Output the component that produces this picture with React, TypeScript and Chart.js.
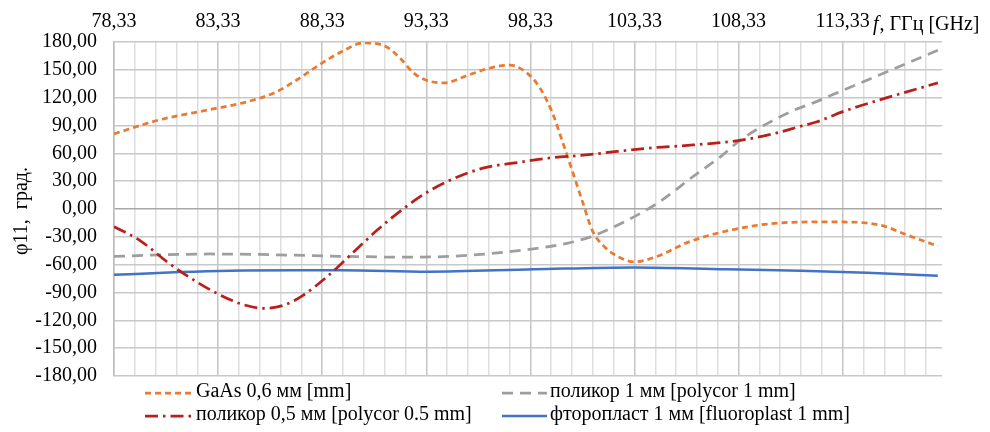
import React, { useEffect, useRef } from "react";
import { Chart, registerables } from "chart.js";
Chart.register(...registerables);

// Frequency axis (GHz)
const xMin = 78.33;
const xMax = 118.1;
const xMajorTicks = [78.33, 83.33, 88.33, 93.33, 98.33, 103.33, 108.33, 113.33];
const yTicks = [-180, -150, -120, -90, -60, -30, 0, 30, 60, 90, 120, 150, 180];

// GaAs 0,6 mm
const gaasF = [78.33, 80.5, 82.9, 84.8, 86.1, 87.1, 88.3, 89.3, 90.3, 91.4, 92.1, 92.7, 93.3, 94.2, 95.3, 96.4, 97.35, 98.3, 98.8, 99.4, 99.85, 100.33, 100.86, 101.3, 101.9, 102.6, 103.3, 104.3, 106.0, 107.9, 109.8, 111.8, 113.3, 114.45, 115.4, 116.3, 117.9];
const gaasV = [81, 96, 107, 116, 126, 139, 157, 170, 179, 175, 162, 147, 139, 136, 144, 152, 155, 144, 130, 103, 74, 42, 6, -23, -41, -52, -57, -52, -35, -23, -16, -14, -14, -15, -19, -27, -40];

// polycor 1 mm
const poly1F = [78.33, 82.94, 85.34, 89.33, 92.55, 95.29, 98.46, 100.09, 101.34, 103.26, 104.55, 106.14, 107.44, 108.4, 109.7, 110.94, 112.1, 113.34, 115.26, 117.9];
const poly1V = [-51, -48.5, -49, -51, -52, -50, -43, -37, -29, -9, 8, 35, 56, 74, 92, 106, 116, 128, 146, 171];

// polycor 0.5 mm
const poly05F = [78.33, 79.58, 80.88, 81.98, 83.28, 84.53, 85.49, 86.45, 87.41, 88.56, 89.67, 90.96, 92.21, 93.36, 94.47, 96.05, 97.69, 99.27, 100.86, 102.49, 104.22, 106.14, 108.4, 110.17, 111.28, 112.1, 113.34, 115.46, 117.9];
const poly05V = [-19, -34, -57, -74, -91, -103, -107, -104, -93, -73, -50, -23, 0, 18, 31, 44, 50, 55, 58, 62, 66, 69, 74, 82, 89, 94, 105, 120, 136];

// fluoroplast 1 mm
const fluoF = [78.33, 81.5, 83.9, 87.1, 89.3, 93.4, 98.5, 103.3, 107.7, 111.3, 114.5, 117.9];
const fluoV = [-71, -68, -66.5, -66, -66, -67.5, -65, -63, -65, -66.5, -68.6, -72];

const seriesLabels = [
  "GaAs 0,6 мм [mm]",
  "поликор 1 мм [polycor 1 mm]",
  "поликор 0,5 мм [polycor 0.5 mm]",
  "фторопласт 1 мм [fluoroplast 1 mm]",
];

const FONT = '"Liberation Serif", "Times New Roman", serif';
const FS = 20;

const fmt = (v: number) => v.toFixed(2).replace(".", ",");
const pts = (f: number[], v: number[]) => f.map((x, i) => ({ x, y: v[i] }));

export default function App() {
  const ref = useRef<HTMLCanvasElement | null>(null);
  useEffect(() => {
    document.body.style.margin = "0";
    const canvas = ref.current!;
    const legendPos = [
      { ds: 0, x1: 145, x2: 193, tx: 196, y: 393 },
      { ds: 1, x1: 502, x2: 547, tx: 550, y: 393 },
      { ds: 2, x1: 145, x2: 193, tx: 196, y: 416 },
      { ds: 3, x1: 502, x2: 547, tx: 550, y: 416 },
    ];
    const extras = {
      id: "extras",
      afterDraw(chart: any) {
        const ctx = chart.ctx as CanvasRenderingContext2D;
        ctx.save();
        ctx.fillStyle = "#000";
        ctx.font = `${FS}px ${FONT}`;
        ctx.textBaseline = "alphabetic";
        // legend
        legendPos.forEach((p) => {
          const ds = chart.data.datasets[p.ds];
          ctx.save();
          ctx.strokeStyle = ds.borderColor;
          ctx.lineWidth = ds.borderWidth;
          ctx.setLineDash(ds.borderDash || []);
          ctx.beginPath();
          ctx.moveTo(p.x1, p.y);
          ctx.lineTo(p.x2, p.y);
          ctx.stroke();
          ctx.restore();
          ctx.textAlign = "left";
          ctx.fillText(seriesLabels[p.ds], p.tx, p.y + 4);
        });
        // x axis title
        ctx.font = `italic ${FS}px ${FONT}`;
        ctx.textAlign = "left";
        ctx.fillText("f", 873, 30);
        const fw = ctx.measureText("f").width;
        ctx.font = `${FS}px ${FONT}`;
        ctx.fillText(", ГГц [GHz]", 873 + fw + 1, 30);
        // y axis title
        ctx.translate(27, 211);
        ctx.rotate(-Math.PI / 2);
        ctx.textAlign = "center";
        ctx.fillText("φ11,  град.", 0, 0);
        ctx.restore();
      },
    };
    const chart = new Chart(canvas, {
      type: "line",
      data: {
        datasets: [
          {
            label: seriesLabels[0],
            data: pts(gaasF, gaasV),
            borderColor: "#E97A32",
            borderWidth: 2.75,
            borderDash: [6, 4],
            pointRadius: 0,
            cubicInterpolationMode: "monotone",
            order: 2,
          },
          {
            label: seriesLabels[1],
            data: pts(poly1F, poly1V),
            borderColor: "#9E9E9E",
            borderWidth: 2.75,
            borderDash: [11, 7],
            pointRadius: 0,
            cubicInterpolationMode: "monotone",
            order: 3,
          },
          {
            label: seriesLabels[2],
            data: pts(poly05F, poly05V),
            borderColor: "#B8201C",
            borderWidth: 2.75,
            borderDash: [13, 5, 2.5, 5],
            pointRadius: 0,
            cubicInterpolationMode: "monotone",
            order: 1,
          },
          {
            label: seriesLabels[3],
            data: pts(fluoF, fluoV),
            borderColor: "#4472C4",
            borderWidth: 2.5,
            pointRadius: 0,
            cubicInterpolationMode: "monotone",
            order: 4,
          },
        ] as any,
      },
      options: {
        animation: false,
        responsive: false,
        maintainAspectRatio: false,
        layout: { padding: { left: 0, top: 0, right: 48, bottom: 56 } },
        plugins: { legend: { display: false }, tooltip: { enabled: false } },
        scales: {
          x: {
            type: "linear",
            position: "top",
            min: xMin,
            max: xMax,
            afterBuildTicks: (scale: any) => {
              const ticks: { value: number }[] = [];
              xMajorTicks.forEach((m) => {
                for (let k = 0; k < 5; k++) {
                  const v = +(m + k).toFixed(2);
                  if (v <= xMax) ticks.push({ value: v });
                }
              });
              scale.ticks = ticks;
            },
            afterFit: (scale: any) => {
              scale.height = 42;
            },
            ticks: {
              autoSkip: false,
              maxRotation: 0,
              padding: 8,
              color: "#000",
              font: { family: FONT, size: FS },
              callback: (v: any) => {
                const val = Number(v);
                return xMajorTicks.some((m) => Math.abs(m - val) < 1e-6) ? fmt(val) : "";
              },
            },
            grid: {
              drawTicks: false,
              color: (c: any) => {
                const val = c.tick ? c.tick.value : 0;
                return xMajorTicks.some((m) => Math.abs(m - val) < 1e-6) ? "#C4C4C4" : "#DEDEDE";
              },
              lineWidth: 1.5,
            },
            border: { display: false },
          },
          y: {
            type: "linear",
            min: -180,
            max: 180,
            afterBuildTicks: (scale: any) => {
              scale.ticks = yTicks.map((value) => ({ value }));
            },
            afterFit: (scale: any) => {
              scale.width = 114;
            },
            ticks: {
              padding: 17,
              color: "#000",
              font: { family: FONT, size: FS },
              callback: (v: any) => fmt(Number(v)),
            },
            grid: {
              drawTicks: false,
              color: (c: any) => (c.tick && c.tick.value === 0 ? "#A8A8A8" : "#C8C8C8"),
              lineWidth: 1.5,
            },
            border: { display: true, color: "#BDBDBD", width: 1.5 },
          },
        },
      } as any,
      plugins: [extras],
    });
    return () => chart.destroy();
  }, []);
  return (
    <div style={{ width: 990, height: 432, position: "relative" }}>
      <canvas ref={ref} width={990} height={432} style={{ width: 990, height: 432, display: "block" }} />
    </div>
  );
}
